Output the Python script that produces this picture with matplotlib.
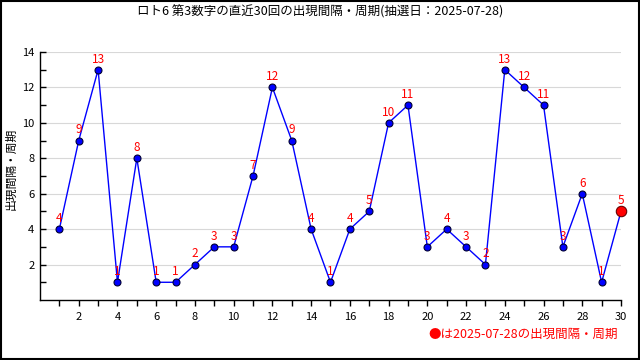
import matplotlib
matplotlib.use('Agg')
import matplotlib.pyplot as plt
from matplotlib.patches import Rectangle

plt.rcParams['font.family'] = ['Noto Sans CJK JP', 'DejaVu Sans']

# データ
draws = list(range(1, 31))
gaps = [4, 9, 13, 1, 8, 1, 1, 2, 3, 3, 7, 12, 9, 4, 1, 4, 5, 10, 11, 3, 4, 3, 2, 13, 12, 11, 3, 6, 1, 5]
title = 'ロト6 第3数字の直近30回の出現間隔・周期(抽選日：2025-07-28)'
ylabel = '出現間隔・周期'
note = '●は2025-07-28の出現間隔・周期'

fig = plt.figure(figsize=(6.4, 3.6), dpi=100)
ax = fig.add_axes([0.0625, 0.1667, 0.9078, 0.6889])

ax.plot(draws, gaps, color='#0000ff', linewidth=1, zorder=3, clip_on=False)
ax.plot(draws[:-1], gaps[:-1], 'o', color='#0000ff', markeredgecolor='#000033',
        markersize=5, markeredgewidth=0.8, zorder=4, clip_on=False)
ax.plot(draws[-1], gaps[-1], 'o', color='#ff0000', markeredgecolor='#660000',
        markersize=7.5, markeredgewidth=0.8, zorder=5, clip_on=False)

for x, y in zip(draws, gaps):
    ax.annotate(str(y), (x, y), xytext=(0, 3), textcoords='offset points',
                ha='center', va='bottom', color='#ff0000', fontsize=8.5, zorder=6)

ax.set_xlim(0, 30)
ax.set_ylim(0, 14)
ax.set_xticks(range(2, 31, 2))
ax.set_xticks(range(1, 31), minor=True)
ax.set_yticks(range(2, 15, 2))
ax.set_yticks(range(1, 15), minor=True)
ax.tick_params(axis='x', which='both', direction='out', length=4, width=1, labelsize=8, pad=5)
ax.tick_params(axis='y', which='both', direction='in', length=4, width=1, labelsize=8, pad=4)
ax.grid(axis='y', which='major', color='#d8d8d8', linewidth=0.8)
ax.set_axisbelow(True)
for s in ['top', 'right']:
    ax.spines[s].set_visible(False)
ax.spines['left'].set_linewidth(1)
ax.spines['bottom'].set_linewidth(1)

fig.text(0.017, 0.53, ylabel, rotation=90, ha='center', va='center', fontsize=8.5)
fig.text(0.5, 0.967, title, ha='center', va='center', fontsize=9)
fig.text(0.965, 0.072, note, ha='right', va='center', color='#ff0000', fontsize=9)

fig.patches.append(Rectangle((0.001, 0.002), 0.997, 0.995, transform=fig.transFigure,
                             fill=False, edgecolor='black', linewidth=1.5))

fig.savefig('out.png', dpi=100)
